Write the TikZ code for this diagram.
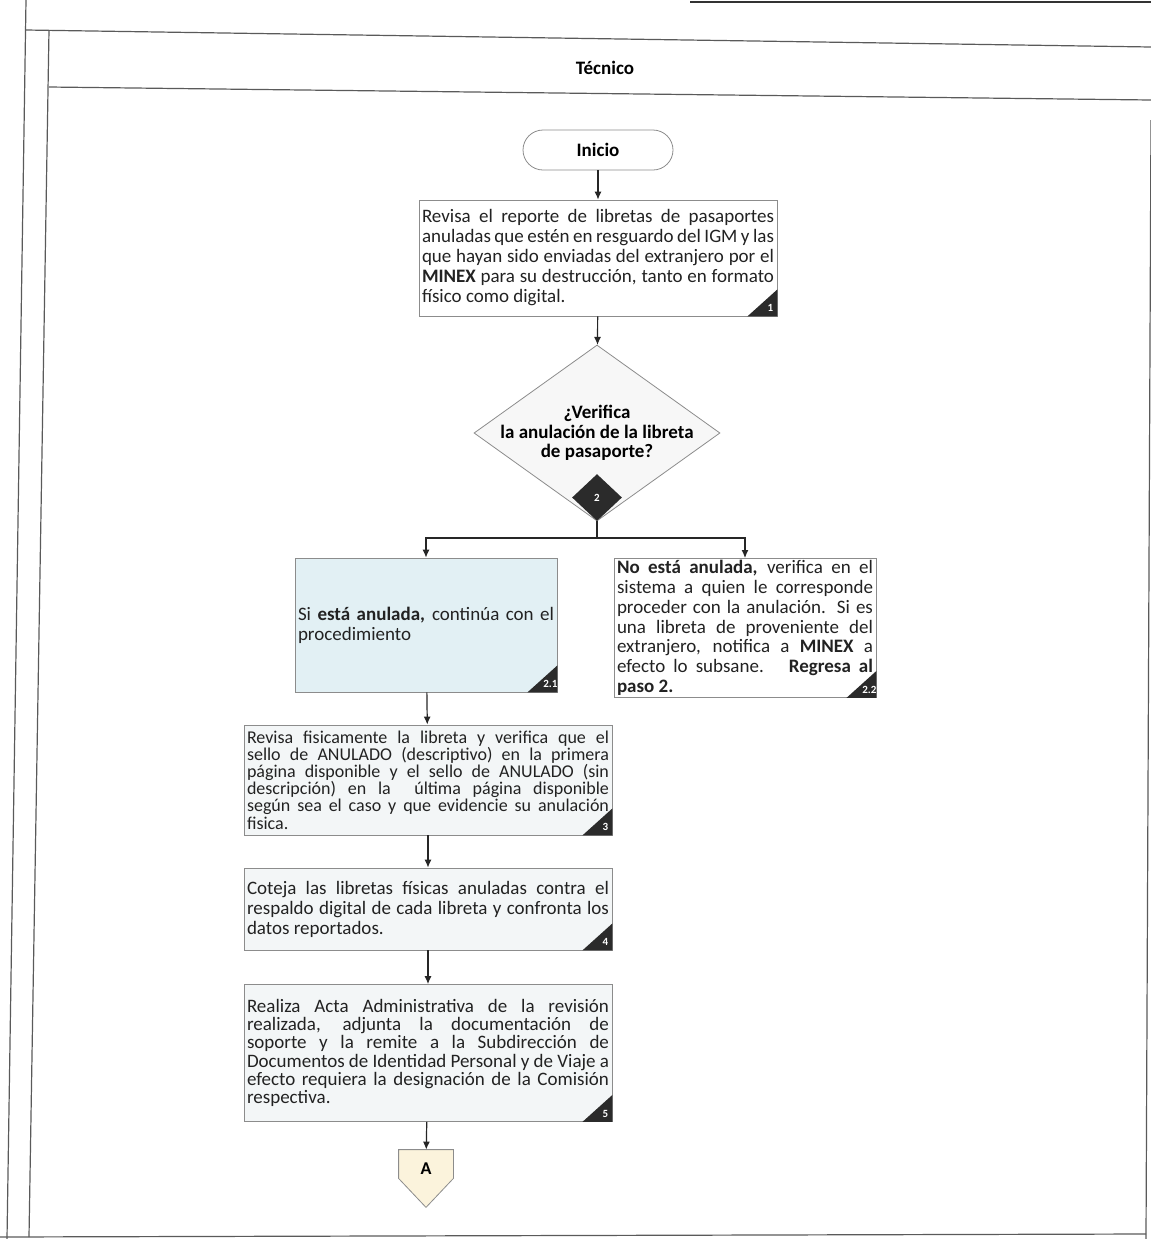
\documentclass[tikz,border=0pt]{standalone}
\usepackage{fontspec}
\setmainfont{Carlito}
\usetikzlibrary{shapes.geometric,arrows.meta}

\definecolor{lanegray}{HTML}{5A5A5A}
\definecolor{boxgray}{HTML}{8C8C8C}
\definecolor{cyanfill}{HTML}{E2F0F4}
\definecolor{palefill}{HTML}{F3F6F7}
\definecolor{tagdark}{HTML}{2B2B2B}
\definecolor{connfill}{HTML}{FBF3DC}
\definecolor{inkgray}{HTML}{222222}

\tikzset{
  lane/.style={lanegray, line width=0.6pt},
  startbox/.style={draw=boxgray, rounded corners=10pt, minimum width=75pt, minimum height=20pt, font=\bfseries\fontsize{9.5}{10}\selectfont},
  actbox/.style={draw=boxgray, fill=palefill, rectangle, align=justify, text=inkgray, inner xsep=1.5pt, inner ysep=1pt, font=\fontsize{9.5}{10}\selectfont},
  decbox/.style={draw=boxgray, fill=gray!6, diamond, aspect=1.4, inner sep=-6pt, align=center, minimum width=123pt, minimum height=88pt, font=\bfseries\fontsize{9.5}{9.8}\selectfont},
  numdia/.style={fill=tagdark, diamond, minimum width=25pt, minimum height=23.5pt, inner sep=0pt, text=white, font=\bfseries\fontsize{5.5}{6}\selectfont},
  offpage/.style={minimum width=27pt, minimum height=14pt, inner sep=0pt, font=\bfseries\fontsize{9}{10}\selectfont},
  arr/.style={-{Latex[length=4pt,width=3.5pt]}, black!85, line width=0.6pt}
}

% dark corner with the step number
\newcommand\cornertag[2]{%
  \fill[tagdark] (#1.south east) -- ++(0,-27) -- ++(-30,27) -- cycle;
  \node[text=white, font=\bfseries\fontsize{5.5}{6}\selectfont] at ([shift={(-7,-8)}]#1.south east) {#2};
}

\begin{document}
\begin{tikzpicture}[x=0.5pt, y=-0.5pt]
\useasboundingbox (0,0) rectangle (1151,1239);

% the lane
\draw [black!80, line width=1.2pt] (690,2) -- (1151,2);
\draw [lane] (26,0) -- (7,1239);
\draw [lane] (26,30) -- (1151,47);
\draw [lane] (49,30) -- (29,1237);
\draw [lane] (49,87) -- (1151,100);
\draw [lane] (0,1237) -- (1146,1234);
\draw [lane] (1151,120) -- (1146,1239);
\node [font=\bfseries\fontsize{9.5}{10}\selectfont] (lanetitle) at (605,68) {Técnico};

% start
\node [startbox] (inicio) at (598,150) {Inicio};

% step 1
\node [actbox, fill=white, text width=176pt, minimum height=58pt] (act1) at (598,258)
  {Revisa el reporte de libretas de pasaportes\linebreak anuladas que estén en resguardo del IGM y las\linebreak que hayan sido enviadas del extranjero por el\linebreak \textbf{MINEX} para su destrucción, tanto en formato\linebreak físico como digital.};
\cornertag{act1}{1}

% step 2, the decision
\node [decbox] (dec2) at (597,433) {¿Verifica\\la anulación de la libreta\\de pasaporte?};
\node [numdia, anchor=south] (dec2n) at (dec2.south) {2};

% the two answers
\node [actbox, fill=cyanfill, text width=128pt, minimum height=67pt] (act21) at (426,625)
  {Si \textbf{está anulada,} continúa con el\linebreak procedimiento};
\cornertag{act21}{2.1}
\node [actbox, fill=white, text width=128pt, minimum height=68.5pt, font=\fontsize{9.5}{9.9}\selectfont] (act22) at (745,628)
  {\textbf{No está anulada,} verifica en el\linebreak sistema a quien le corresponde\linebreak proceder con la anulación. Si es\linebreak una libreta de proveniente del\linebreak extranjero, notifica a \textbf{MINEX} a\linebreak efecto lo subsane. \ \textbf{Regresa al}\linebreak \textbf{paso 2.}};
\cornertag{act22}{2.2}

% steps 3 to 5
\node [actbox, text width=181pt, minimum height=55pt, font=\fontsize{9}{8.6}\selectfont] (act3) at (428,780)
  {Revisa fisicamente la libreta y verifica que el\linebreak sello de ANULADO (descriptivo) en la primera\linebreak página disponible y el sello de ANULADO (sin\linebreak descripción) en la \ última página disponible\linebreak según sea el caso y que evidencie su anulación\linebreak fisica.};
\cornertag{act3}{3}
\node [actbox, text width=181pt, minimum height=41pt] (act4) at (428,909)
  {Coteja las libretas físicas anuladas contra el\linebreak respaldo digital de cada libreta y confronta los\linebreak datos reportados.};
\cornertag{act4}{4}
\node [actbox, text width=181pt, minimum height=68.5pt, font=\fontsize{9.5}{9.1}\selectfont] (act5) at (428,1053)
  {Realiza Acta Administrativa de la revisión\linebreak realizada, adjunta la documentación de\linebreak soporte y la remite a la Subdirección de\linebreak Documentos de Identidad Personal y de Viaje a\linebreak efecto requiera la designación de la Comisión\linebreak respectiva.};
\cornertag{act5}{5}

% off-page connector
\node [offpage] (conA) at (426,1164) {};
\filldraw [draw=boxgray, fill=connfill] (conA.north west) -- (conA.north east) -- (conA.south east)
  -- ([shift={(0,29)}]conA.south) -- (conA.south west) -- cycle;
\node [font=\bfseries\fontsize{9}{10}\selectfont] at ([shift={(0,5)}]conA.center) {A};

% connectors
\coordinate (split) at (597,538);
\draw [arr] (inicio) -- (act1);
\draw [arr] (act1) -- (dec2);
\draw [black!85, line width=0.6pt] (dec2.south) -- (split);
\draw [arr] (split) -| (act21);
\draw [arr] (split) -| (act22);
\draw [arr] (act21) -- (act3);
\draw [arr] (act3) -- (act4);
\draw [arr] (act4) -- (act5);
\draw [arr] (act5) -- (conA);

\end{tikzpicture}
\end{document}
